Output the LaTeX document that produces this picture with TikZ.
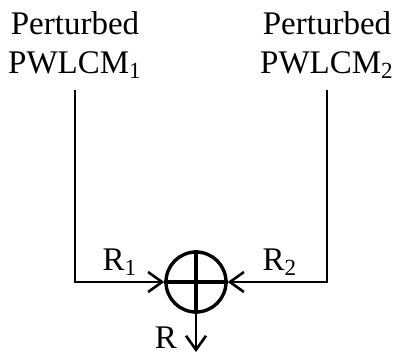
\documentclass[tikz,border=0pt]{standalone}
\usepackage{fontspec}
\setmainfont{Liberation Serif}
\usetikzlibrary{arrows.meta}

\begin{document}
\begin{tikzpicture}[x=0.5pt, y=-0.5pt, line width=1.3pt,
  >={Straight Barb[length=7pt, width=10pt, line width=1.3pt]},
  font=\rmfamily\fontsize{16.5}{19.5}\selectfont]

\useasboundingbox (0,0) rectangle (398,360);

%-- sources
\node[align=center, inner sep=0pt] (P1) at (75,45) {Perturbed\\PWLCM\textsubscript{1}};
\node[align=center, inner sep=0pt] (P2) at (327,45) {Perturbed\\PWLCM\textsubscript{2}};

%-- xor
\node[circle, draw, line width=1.7pt, minimum size=30pt, inner sep=0pt] (X) at (196,282) {};
\draw[line width=1.7pt] (X.north)--(X.south);
\draw[line width=1.7pt] (X.west)--(X.east);

\coordinate (C1) at (75,282);
\coordinate (C2) at (327,282);
\coordinate (Out) at (196,352);

\draw[->] ([yshift=-5pt]P1.south) -- (C1) -- (X.west);
\draw[->] ([yshift=-5pt]P2.south) -- (C2) -- (X.east);
\draw[->] (X.south) -- (Out);

%-- labels
\node (R1) at (120,262) {R\textsubscript{1}};
\node (R2) at (280,262) {R\textsubscript{2}};
\node (R) at (166,338) {R};

\end{tikzpicture}
\end{document}
